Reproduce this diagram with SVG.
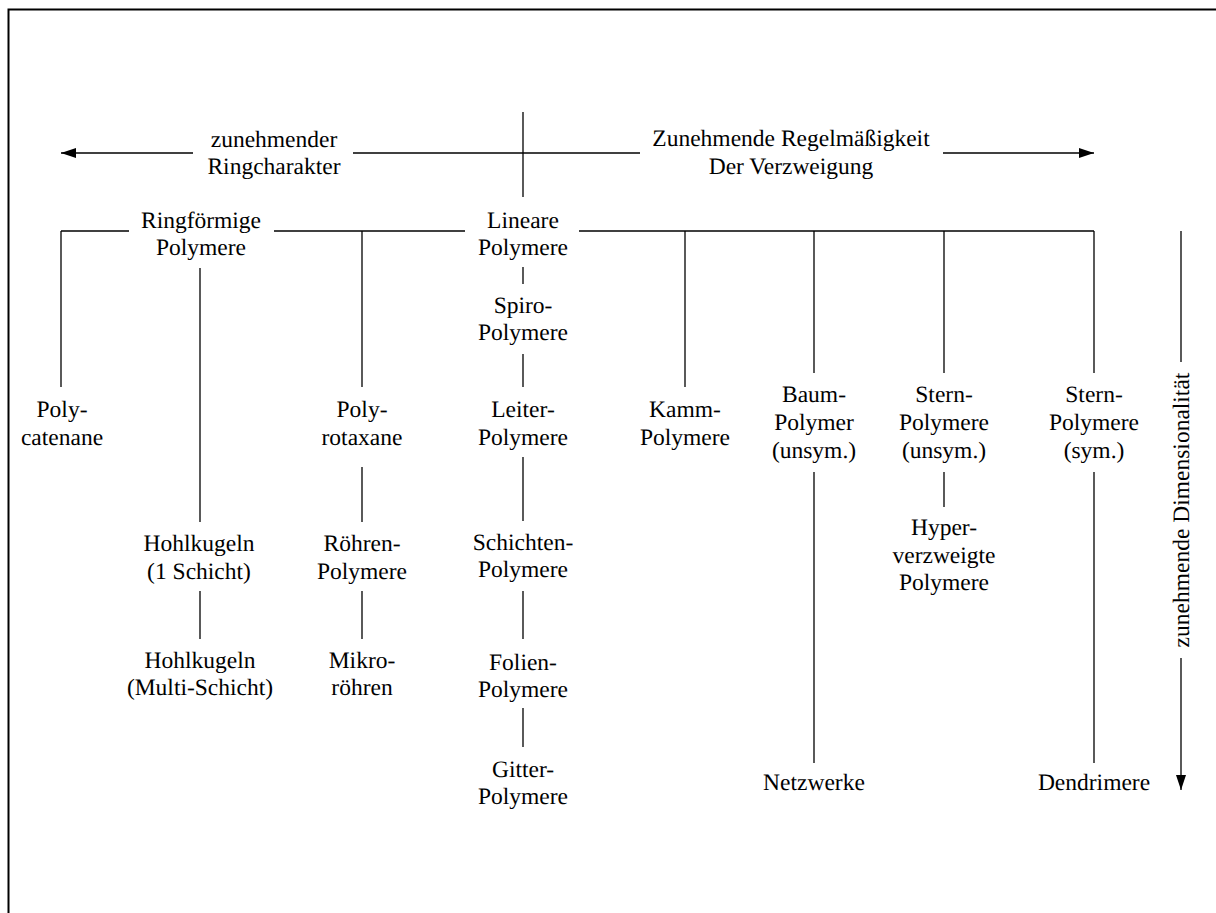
<svg xmlns="http://www.w3.org/2000/svg" width="1216" height="913" viewBox="0 0 1216 913">
<style>
text{font-family:"Liberation Serif","Times New Roman",serif;font-size:23.5px;fill:#000;text-anchor:middle;text-rendering:geometricPrecision}
.c line{stroke:#000;stroke-width:1.3;fill:none}
.frame{stroke:#000;stroke-width:2;fill:none}
</style>
<defs>
<marker id="ah" viewBox="0 0 15 10" refX="15" refY="5" markerWidth="15" markerHeight="10" markerUnits="userSpaceOnUse" orient="auto">
<path d="M0,0 L15,5 L0,10 Z" fill="#000"/>
</marker>
</defs>
<rect width="1216" height="913" fill="#fff"/>
<path class="frame" d="M8.5,913 V9.5 H1216"/>
<g class="c" id="connectors">
<line x1="193" y1="153" x2="61" y2="153" marker-end="url(#ah)"/>
<line x1="353" y1="153" x2="640" y2="153"/>
<line x1="943" y1="153" x2="1094" y2="153" marker-end="url(#ah)"/>
<line x1="523" y1="112" x2="523" y2="197"/>
<line x1="61" y1="231" x2="129" y2="231"/>
<line x1="274" y1="231" x2="465" y2="231"/>
<line x1="579" y1="231" x2="1094" y2="231"/>
<line x1="61" y1="231" x2="61" y2="387"/>
<line x1="200" y1="268" x2="200" y2="522"/>
<line x1="200" y1="591" x2="200" y2="639"/>
<line x1="362" y1="231" x2="362" y2="387"/>
<line x1="362" y1="467" x2="362" y2="522"/>
<line x1="362" y1="591" x2="362" y2="639"/>
<line x1="523" y1="267" x2="523" y2="284"/>
<line x1="523" y1="354" x2="523" y2="387"/>
<line x1="523" y1="457" x2="523" y2="521"/>
<line x1="523" y1="591" x2="523" y2="639"/>
<line x1="523" y1="708" x2="523" y2="747"/>
<line x1="685" y1="231" x2="685" y2="387"/>
<line x1="814" y1="231" x2="814" y2="373"/>
<line x1="814" y1="472" x2="814" y2="763"/>
<line x1="944" y1="231" x2="944" y2="373"/>
<line x1="944" y1="472" x2="944" y2="507"/>
<line x1="1094" y1="231" x2="1094" y2="373"/>
<line x1="1094" y1="472" x2="1094" y2="763"/>
<line x1="1181" y1="231" x2="1181" y2="362"/>
<line x1="1181" y1="658" x2="1181" y2="790" marker-end="url(#ah)"/>
</g>
<g id="label-ring"><text x="274" y="147">zunehmender</text><text x="274" y="174">Ringcharakter</text></g>
<g id="label-regel"><text x="791" y="146">Zunehmende Regelmäßigkeit</text><text x="791" y="174">Der Verzweigung</text></g>
<g id="label-dim"><text transform="translate(1189,510) rotate(-90)">zunehmende Dimensionalität</text></g>
<g id="n-ringfoermig"><text x="201" y="228">Ringförmige</text><text x="201" y="255">Polymere</text></g>
<g id="n-linear"><text x="523" y="228">Lineare</text><text x="523" y="255">Polymere</text></g>
<g id="n-polycatenane"><text x="62" y="417">Poly-</text><text x="62" y="445">catenane</text></g>
<g id="n-hohl1"><text x="199" y="551">Hohlkugeln</text><text x="199" y="579">(1 Schicht)</text></g>
<g id="n-hohlmulti"><text x="200" y="668">Hohlkugeln</text><text x="200" y="695">(Multi-Schicht)</text></g>
<g id="n-polyrotaxane"><text x="362" y="417">Poly-</text><text x="362" y="445">rotaxane</text></g>
<g id="n-roehren"><text x="362" y="551">Röhren-</text><text x="362" y="579">Polymere</text></g>
<g id="n-mikro"><text x="362" y="668">Mikro-</text><text x="362" y="695">röhren</text></g>
<g id="n-spiro"><text x="523" y="313">Spiro-</text><text x="523" y="340">Polymere</text></g>
<g id="n-leiter"><text x="523" y="417">Leiter-</text><text x="523" y="445">Polymere</text></g>
<g id="n-schichten"><text x="523" y="550">Schichten-</text><text x="523" y="577">Polymere</text></g>
<g id="n-folien"><text x="523" y="670">Folien-</text><text x="523" y="697">Polymere</text></g>
<g id="n-gitter"><text x="523" y="777">Gitter-</text><text x="523" y="804">Polymere</text></g>
<g id="n-kamm"><text x="685" y="417">Kamm-</text><text x="685" y="445">Polymere</text></g>
<g id="n-baum"><text x="814" y="402">Baum-</text><text x="814" y="430">Polymer</text><text x="814" y="458">(unsym.)</text></g>
<g id="n-netzwerke"><text x="814" y="790">Netzwerke</text></g>
<g id="n-stern-unsym"><text x="944" y="402">Stern-</text><text x="944" y="430">Polymere</text><text x="944" y="458">(unsym.)</text></g>
<g id="n-hyper"><text x="944" y="535">Hyper-</text><text x="944" y="563">verzweigte</text><text x="944" y="590">Polymere</text></g>
<g id="n-stern-sym"><text x="1094" y="402">Stern-</text><text x="1094" y="430">Polymere</text><text x="1094" y="458">(sym.)</text></g>
<g id="n-dendrimere"><text x="1094" y="790">Dendrimere</text></g>
</svg>
